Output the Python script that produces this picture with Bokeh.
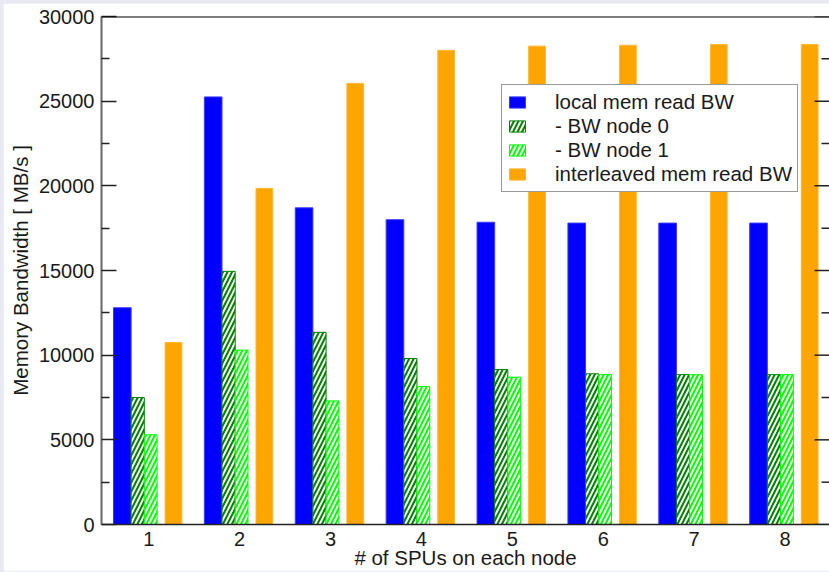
from bokeh.plotting import figure
from bokeh.models import (ColumnDataSource, FixedTicker, Legend, LegendItem,
                          Range1d, Span)
from bokeh.transform import dodge
from bokeh.embed import file_html
from bokeh.resources import INLINE

spus = [1, 2, 3, 4, 5, 6, 7, 8]
local_bw = [12800, 25250, 18700, 18000, 17850, 17800, 17800, 17800]
node0_bw = [7500, 14950, 11350, 9800, 9150, 8900, 8850, 8850]
node1_bw = [5300, 10300, 7300, 8150, 8700, 8850, 8850, 8850]
interleaved_bw = [10750, 19850, 26050, 28000, 28250, 28300, 28350, 28350]
y_ticks = [0, 5000, 10000, 15000, 20000, 25000, 30000]
y_minor = [2500, 7500, 12500, 17500, 22500, 27500]
x_ticks = spus
x_title = "# of SPUs on each node"
y_title = "Memory Bandwidth [ MB/s ]"

src = ColumnDataSource(dict(spus=spus, local=local_bw, node0=node0_bw,
                            node1=node1_bw, inter=interleaved_bw))

FONT = "Liberation Sans"
FS = "20px"
TXT = "#1a1a1a"
X0, X1 = 0.48, 8.49
W, H, BL = 826, 568, 98

p = figure(width=W, height=H, output_backend="svg", toolbar_location=None,
           x_range=Range1d(X0, X1), y_range=Range1d(0, 30000),
           min_border_left=BL, min_border_right=0, min_border_top=13,
           min_border_bottom=46)
p.margin = (3, 0, 0, 3)
p.background_fill_color = "white"
p.border_fill_color = "white"
p.outline_line_color = None
p.grid.visible = False

r_local = p.vbar(x=dodge("spus", -0.291), top="local", width=0.194, source=src,
                 fill_color="#0000ff", line_color="#3a3aff", line_width=1)
r_n0 = p.vbar(x=dodge("spus", -0.1215), top="node0", width=0.145, source=src,
              fill_color="white", line_color="#008000", line_width=1,
              hatch_pattern="/", hatch_color="#008000", hatch_scale=9, hatch_weight=2)
r_n1 = p.vbar(x=dodge("spus", 0.0215), top="node1", width=0.141, source=src,
              fill_color="white", line_color="#00ff00", line_width=1,
              hatch_pattern="/", hatch_color="#00ff00", hatch_scale=9, hatch_weight=2)
r_int = p.vbar(x=dodge("spus", 0.272), top="inter", width=0.184, source=src,
               fill_color="#ffa500", line_color="#ffb733", line_width=1)

# top border line of the plot box
p.add_layout(Span(location=30000, dimension="width", line_color="black", line_width=2))

# mirrored tick marks along the right edge (pointing inward)
px_per_x = (W - BL) / (X1 - X0)
major_len = 15 / px_per_x
minor_len = 8 / px_per_x
p.segment(x0=[X1 - major_len] * len(y_ticks), y0=y_ticks, x1=[X1] * len(y_ticks), y1=y_ticks,
          line_color="#222222", line_width=1.5)
p.segment(x0=[X1 - minor_len] * len(y_minor), y0=y_minor, x1=[X1] * len(y_minor), y1=y_minor,
          line_color="#222222", line_width=1.5)

# axes
p.xaxis.ticker = FixedTicker(ticks=x_ticks)
p.yaxis.ticker = FixedTicker(ticks=y_ticks, minor_ticks=y_minor)
for ax in (p.xaxis[0], p.yaxis[0]):
    ax.major_label_text_font = FONT
    ax.major_label_text_font_size = FS
    ax.major_label_text_color = TXT
    ax.axis_label_text_font = FONT
    ax.axis_label_text_font_size = "20.5px"
    ax.axis_label_text_font_style = "normal"
    ax.axis_label_text_color = TXT
    ax.major_tick_out = 0
    ax.minor_tick_out = 0

p.xaxis.axis_label = x_title
p.xaxis.major_tick_in = 0
p.xaxis.minor_tick_line_color = None
p.xaxis.axis_line_color = "#222222"
p.xaxis.axis_line_width = 1.5
p.xaxis.major_label_standoff = 7
p.xaxis.axis_label_standoff = -3

p.yaxis.axis_label = y_title
p.yaxis.axis_line_color = "#666666"
p.yaxis.axis_line_width = 2
p.yaxis.major_tick_in = 15
p.yaxis.minor_tick_in = 8
p.yaxis.major_tick_line_color = "#222222"
p.yaxis.minor_tick_line_color = "#222222"
p.yaxis.major_tick_line_width = 1.5
p.yaxis.minor_tick_line_width = 1.5
p.yaxis.major_label_standoff = 7
p.yaxis.axis_label_standoff = 4

legend = Legend(items=[
    LegendItem(label="local mem read BW", renderers=[r_local]),
    LegendItem(label="- BW node 0", renderers=[r_n0]),
    LegendItem(label="- BW node 1", renderers=[r_n1]),
    LegendItem(label="interleaved mem read BW", renderers=[r_int]),
], location=(400, 332))
legend.label_text_font = FONT
legend.label_text_font_size = "20.5px"
legend.label_text_color = TXT
legend.glyph_width = 20
legend.glyph_height = 14
legend.label_standoff = 28
legend.label_height = 20
legend.padding = 5
legend.spacing = -1
legend.border_line_color = "#333333"
legend.border_line_width = 1.5
legend.background_fill_color = "white"
legend.background_fill_alpha = 1
p.add_layout(legend)

html = file_html(p, INLINE)
html = html.replace("</head>", "<style>html, body { background-color: #e9e9f6 !important; }</style></head>", 1)
open("out.html", "w").write(html)
